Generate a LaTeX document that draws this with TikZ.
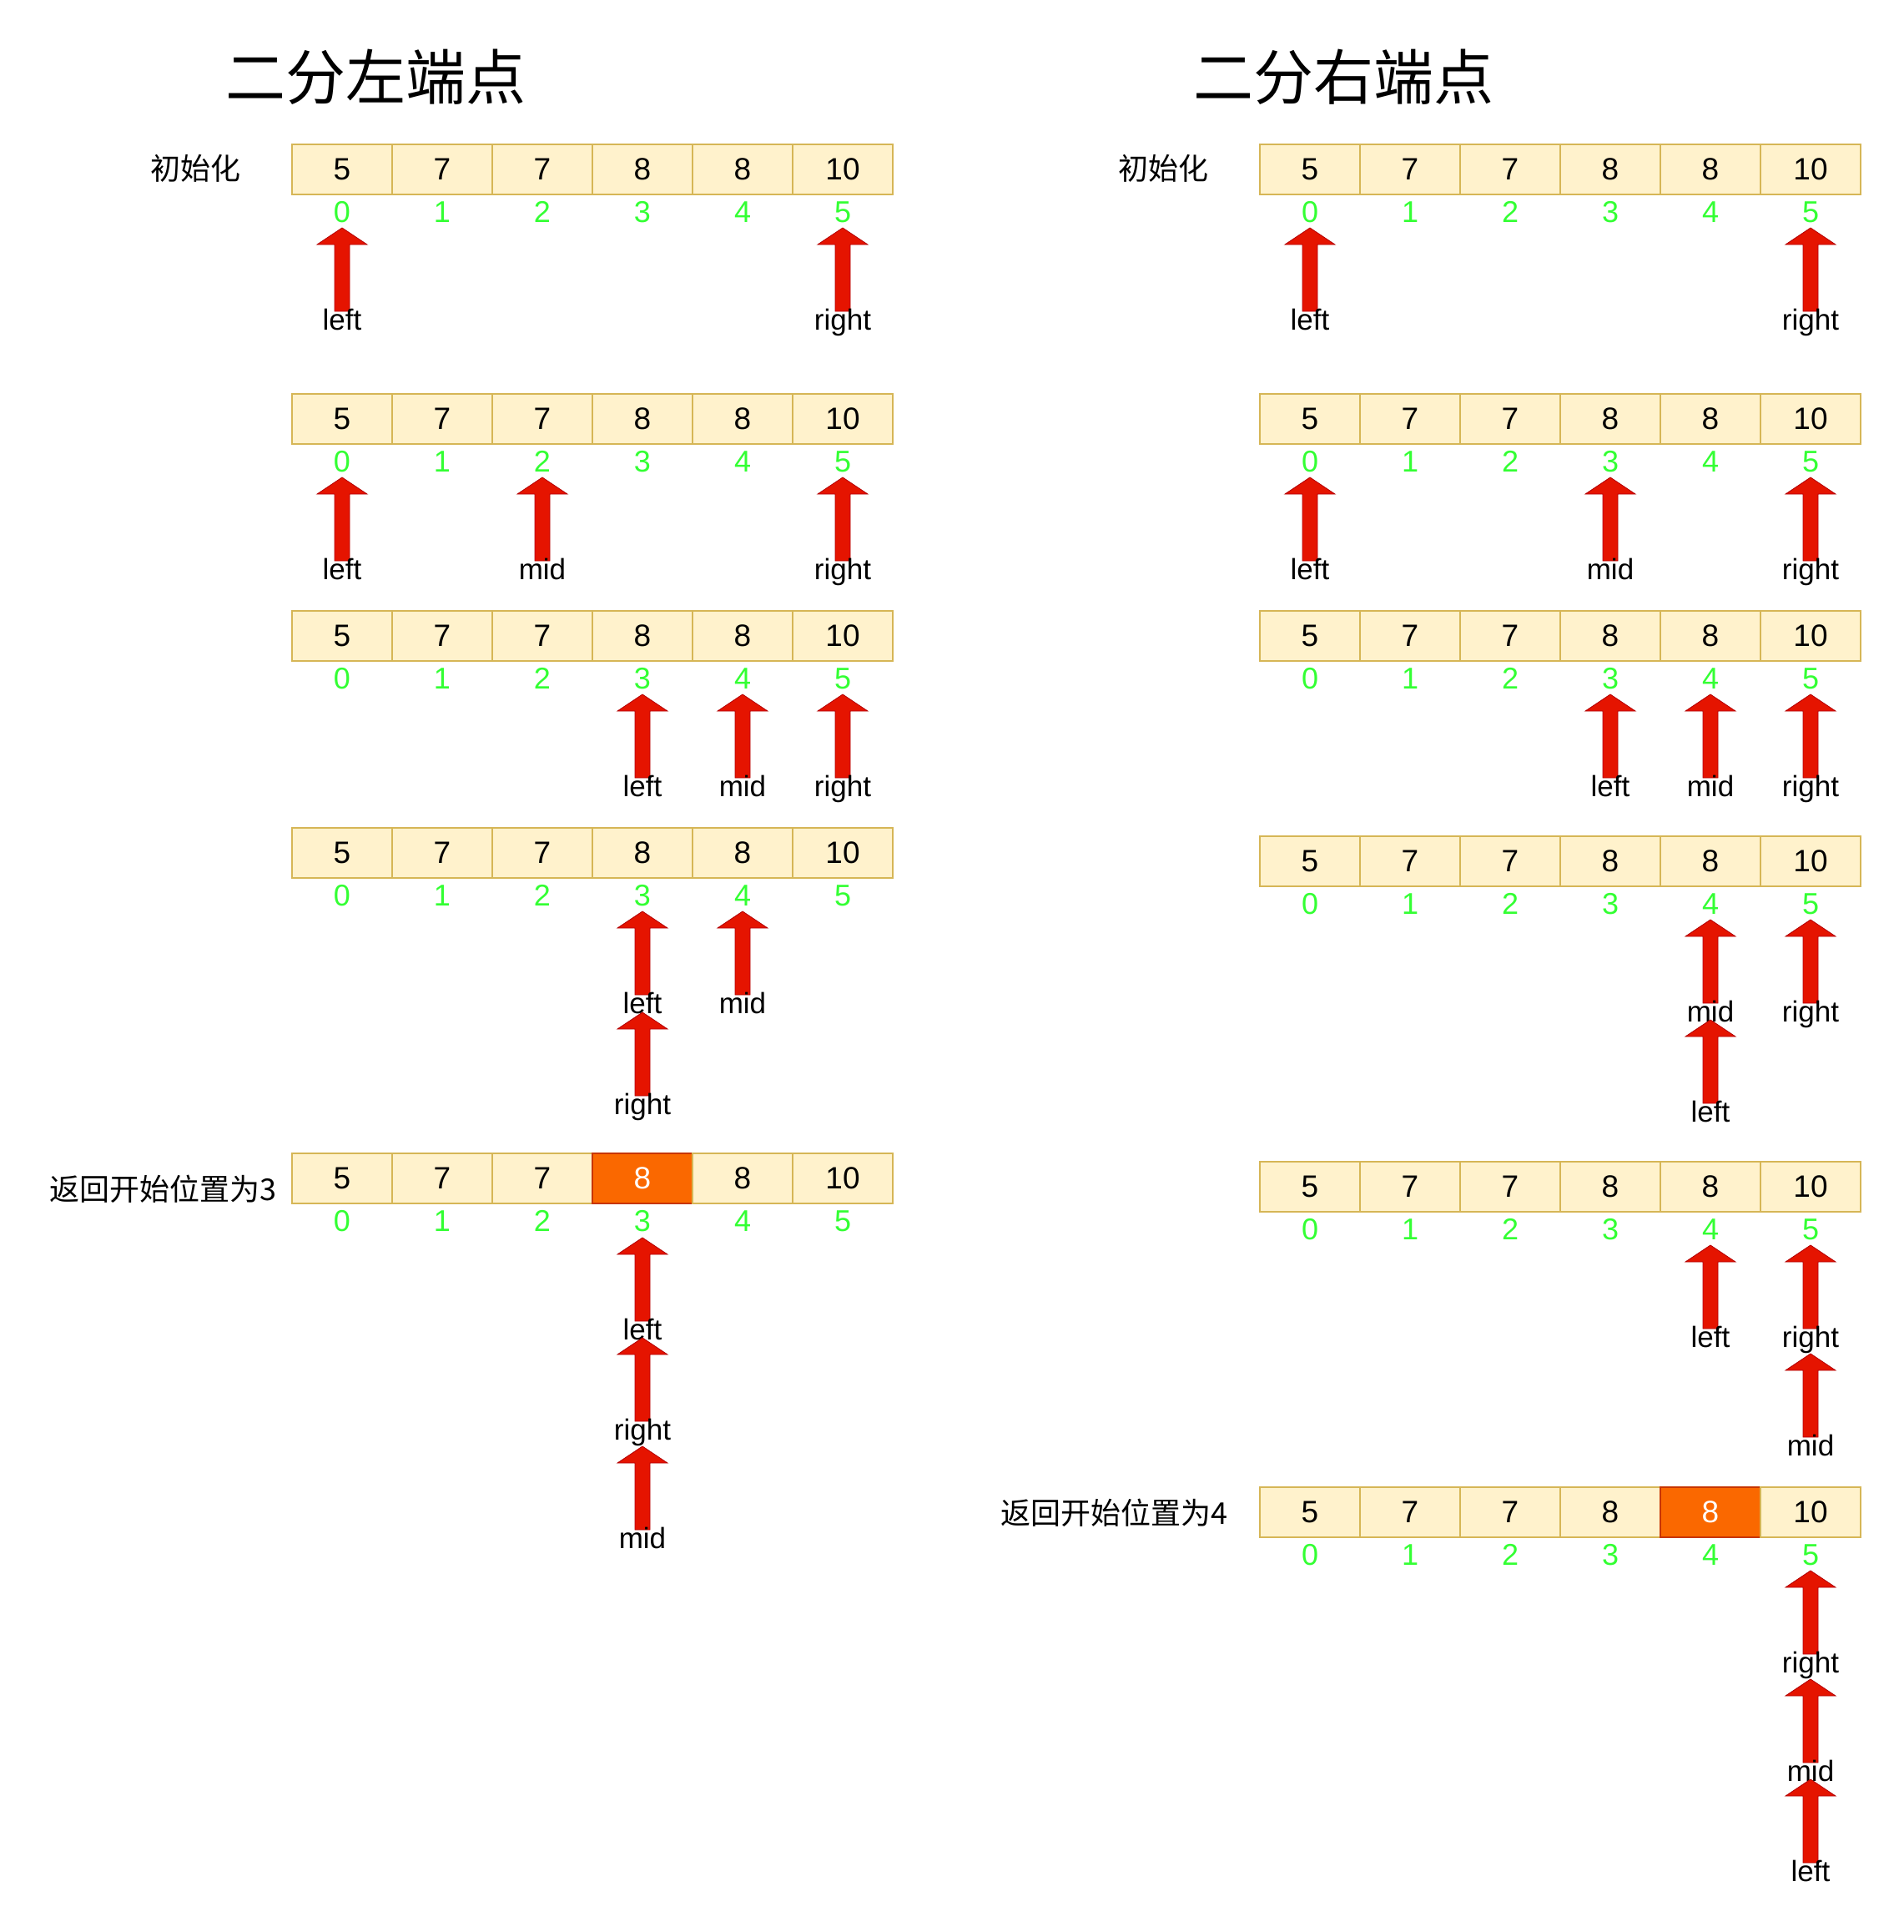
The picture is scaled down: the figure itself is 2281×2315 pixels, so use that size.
\documentclass[tikz,border=0pt]{standalone}
\usepackage{fontspec}
\setmainfont{Liberation Sans}
\newfontfamily\cjk{Noto Sans CJK SC}
\definecolor{cellfill}{HTML}{FFF2CC}
\definecolor{celldraw}{HTML}{D6B656}
\definecolor{hifill}{HTML}{FA6800}
\definecolor{hidraw}{HTML}{C73500}
\definecolor{idxgreen}{HTML}{33FF33}
\definecolor{arrfill}{HTML}{E51400}
\definecolor{arrdraw}{HTML}{B20000}
\tikzset{
  cell/.style={draw=celldraw, fill=cellfill, line width=1.2pt, minimum width=120pt, minimum height=60pt, inner sep=0pt, font=\fontsize{37}{40}\selectfont, text=black},
  hicell/.style={cell, draw=hidraw, fill=hifill, text=white},
  idx/.style={text=idxgreen, font=\fontsize{36}{38}\selectfont, anchor=base, inner sep=0pt},
  lbl/.style={font=\fontsize{35}{38}\selectfont, anchor=base, inner sep=0pt, text=black},
  ptr/.style={fill=arrfill, draw=arrdraw, line width=0.8pt},
  ttl/.style={font=\cjk\fontsize{72}{80}\selectfont, inner sep=0pt},
  side/.style={font=\cjk\fontsize{36}{40}\selectfont, inner sep=0pt},
}
% #1 name, #2 x0, #3 top, #4 highlighted index
\newcommand\cellrow[4]{%
  \foreach \v [count=\i from 0] in {5,7,7,8,8,10} {%
    \ifnum\i=#4\relax\def\cst{hicell}\else\def\cst{cell}\fi
    \node[\cst] (#1-c\i) at ({#2+60+120*\i},{#3+30}) {\v};
    \node[idx] (#1-i\i) at ({#2+60+120*\i},{#3+93}) {\i};
  }%
}
% #1 name, #2 x0, #3 index, #4 tip y, #5 label
\newcommand\ptrarrow[5]{%
  \pgfmathsetmacro\cx{#2+60+120*#3}%
  \draw[ptr] (\cx,#4) -- ({\cx+30},{#4+20}) -- ({\cx+9},{#4+20}) -- ({\cx+9},{#4+100})
     -- ({\cx-9},{#4+100}) -- ({\cx-9},{#4+20}) -- ({\cx-30},{#4+20}) -- cycle;
  \node[lbl] (#1) at (\cx,{#4+122}) {#5};
}
\begin{document}
\begin{tikzpicture}[x=1pt,y=-1pt]
\useasboundingbox[fill=white] (0,0) rectangle (2281,2315);
% titles
\node[ttl] (tl) at (450,92) {二分左端点};
\node[ttl] (tr) at (1610,92) {二分右端点};
\node[side] (initl) at (234,202) {初始化};
\node[side] (initr) at (1394,202) {初始化};
\node[side] (retl) at (195,1425) {返回开始位置为3};
\node[side] (retr) at (1335,1813) {返回开始位置为4};
% left column
\cellrow{L1}{350}{173}{-1}
\ptrarrow{L1l}{350}{0}{273}{left}
\ptrarrow{L1r}{350}{5}{273}{right}
\cellrow{L2}{350}{472}{-1}
\ptrarrow{L2l}{350}{0}{572}{left}
\ptrarrow{L2m}{350}{2}{572}{mid}
\ptrarrow{L2r}{350}{5}{572}{right}
\cellrow{L3}{350}{732}{-1}
\ptrarrow{L3l}{350}{3}{832}{left}
\ptrarrow{L3m}{350}{4}{832}{mid}
\ptrarrow{L3r}{350}{5}{832}{right}
\cellrow{L4}{350}{992}{-1}
\ptrarrow{L4l}{350}{3}{1092}{left}
\ptrarrow{L4m}{350}{4}{1092}{mid}
\ptrarrow{L4r}{350}{3}{1213}{right}
\cellrow{L5}{350}{1382}{3}
\ptrarrow{L5l}{350}{3}{1483}{left}
\ptrarrow{L5r}{350}{3}{1603}{right}
\ptrarrow{L5m}{350}{3}{1733}{mid}
% right column
\cellrow{R1}{1510}{173}{-1}
\ptrarrow{R1l}{1510}{0}{273}{left}
\ptrarrow{R1r}{1510}{5}{273}{right}
\cellrow{R2}{1510}{472}{-1}
\ptrarrow{R2l}{1510}{0}{572}{left}
\ptrarrow{R2m}{1510}{3}{572}{mid}
\ptrarrow{R2r}{1510}{5}{572}{right}
\cellrow{R3}{1510}{732}{-1}
\ptrarrow{R3l}{1510}{3}{832}{left}
\ptrarrow{R3m}{1510}{4}{832}{mid}
\ptrarrow{R3r}{1510}{5}{832}{right}
\cellrow{R4}{1510}{1002}{-1}
\ptrarrow{R4m}{1510}{4}{1102}{mid}
\ptrarrow{R4r}{1510}{5}{1102}{right}
\ptrarrow{R4l}{1510}{4}{1222}{left}
\cellrow{R5}{1510}{1392}{-1}
\ptrarrow{R5l}{1510}{4}{1492}{left}
\ptrarrow{R5r}{1510}{5}{1492}{right}
\ptrarrow{R5m}{1510}{5}{1622}{mid}
\cellrow{R6}{1510}{1782}{4}
\ptrarrow{R6r}{1510}{5}{1882}{right}
\ptrarrow{R6m}{1510}{5}{2012}{mid}
\ptrarrow{R6l}{1510}{5}{2132}{left}
\end{tikzpicture}
\end{document}
